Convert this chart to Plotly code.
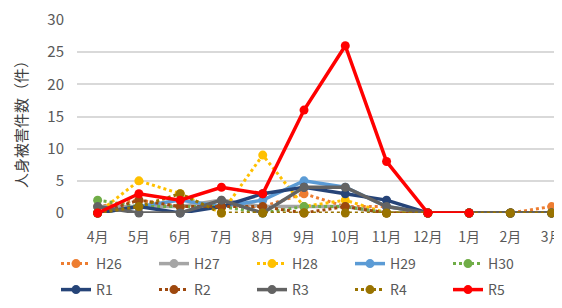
import plotly.graph_objects as go

months = ["4月", "5月", "6月", "7月", "8月", "9月", "10月", "11月", "12月", "1月", "2月", "3月"]

H26 = [1, 2, 1, 1, 1, 3, 1, 1, 0, 0, 0, 1]
H27 = [1, 1, 1, 2, 1, 1, 1, 0, 0, 0, 0, 0]
H28 = [0, 5, 3, 0, 9, 1, 2, 0, 0, 0, 0, 0]
H29 = [0, 1, 2, 1, 2, 5, 4, 1, 0, 0, 0, 0]
H30 = [2, 1, 1, 1, 0, 1, 1, 0, 0, 0, 0, 0]
R1 = [0, 1, 0, 1, 3, 4, 3, 2, 0, 0, 0, 0]
R2 = [0, 2, 1, 1, 1, 0, 1, 0, 0, 0, 0, 0]
R3 = [1, 0, 0, 2, 0, 4, 4, 1, 0, 0, 0, 0]
R4 = [0, 1, 3, 0, 0, 0, 0, 0, 0, 0, 0, 0]
R5 = [0, 3, 2, 4, 3, 16, 26, 8, 0, 0, None, None]

series = [
    ("H26", H26, "#ED7D31", "dot", "legend"),
    ("H27", H27, "#A5A5A5", "solid", "legend"),
    ("H28", H28, "#FFC000", "dot", "legend"),
    ("H29", H29, "#5B9BD5", "solid", "legend"),
    ("H30", H30, "#70AD47", "dot", "legend"),
    ("R1", R1, "#264478", "solid", "legend2"),
    ("R2", R2, "#9E480E", "dot", "legend2"),
    ("R3", R3, "#636363", "solid", "legend2"),
    ("R4", R4, "#997300", "dot", "legend2"),
    ("R5", R5, "#FF0000", "solid", "legend2"),
]

fig = go.Figure()
for name, vals, color, dash, lg in series:
    fig.add_trace(go.Scatter(
        x=months, y=vals, name=name, mode="lines+markers",
        line=dict(color=color, width=3.5 if dash == "solid" else 3, dash=dash),
        marker=dict(color=color, size=9),
        cliponaxis=False, legend=lg,
    ))

font = "Noto Sans CJK JP"
# page offset of 8px (browser body margin) compensated in the margins
W, H = 554, 300
ml, mt, mr = 69, 12, 0
plot_w = W - ml - mr
plot_h = 193
mb = H - mt - plot_h
zero_y = mt + plot_h  # figure px of y=0


def py(page_y):
    return -((page_y - 8) - zero_y) / plot_h


def px(page_x):
    return ((page_x - 8) - ml) / plot_w


leg_common = dict(
    orientation="h", xanchor="left", yanchor="middle",
    entrywidth=53, entrywidthmode="pixels",
    font=dict(size=14, color="#595959", family=font),
    bgcolor="rgba(0,0,0,0)",
)
fig.update_layout(
    width=W, height=H,
    margin=dict(l=ml, r=mr, t=mt, b=mb, autoexpand=False),
    plot_bgcolor="white", paper_bgcolor="white",
    font=dict(family=font, size=14, color="#595959"),
    xaxis=dict(
        type="category", range=[-0.5, 11.25], showgrid=False,
        showline=False, zeroline=False, ticks="",
        ticklabelstandoff=14, automargin=False,
        tickfont=dict(size=14, color="#595959"),
    ),
    yaxis=dict(
        range=[0, 30], tickvals=[0, 5, 10, 15, 20, 25, 30],
        showgrid=True, gridcolor="#D9D9D9", gridwidth=1.5,
        zeroline=False, showline=False, ticks="",
        ticklabelstandoff=12, automargin=False,
        tickfont=dict(size=15, color="#595959"),
    ),
    showlegend=True,
    legend=dict(x=px(56), y=py(264), **leg_common),
    legend2=dict(x=px(56), y=py(290), **leg_common),
    annotations=[dict(
        text="人身被害件数（件）", xref="paper", yref="paper",
        x=px(20), y=py(121), textangle=-90,
        showarrow=False, xanchor="center", yanchor="middle",
        font=dict(size=15, color="#404040", family=font),
    )],
)

fig.write_html("out.html")
